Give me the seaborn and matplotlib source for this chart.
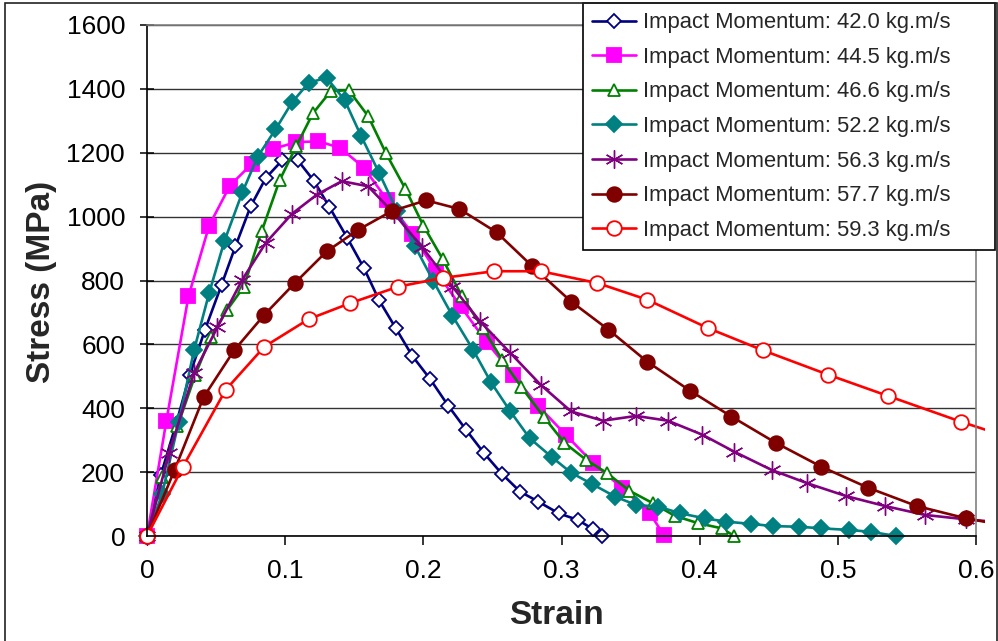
import matplotlib
matplotlib.use("Agg")
import matplotlib.pyplot as plt
import seaborn as sns
from matplotlib.patches import Rectangle
from matplotlib.transforms import Bbox, TransformedBbox

# values (strain, stress in MPa)
strain_42_0 = [0, 0.010, 0.021, 0.031, 0.042, 0.054, 0.064, 0.075, 0.086, 0.098, 0.109,
               0.121, 0.132, 0.145, 0.157, 0.168, 0.180, 0.192, 0.205, 0.218, 0.231,
               0.244, 0.257, 0.270, 0.283, 0.298, 0.312, 0.323, 0.329]
stress_42_0 = [0, 191, 350, 505, 646, 787, 907, 1032, 1121, 1177, 1177,
               1111, 1030, 933, 839, 738, 651, 564, 491, 408, 332,
               259, 194, 139, 108, 71, 50, 21, 0]

strain_44_5 = [0, 0.014, 0.030, 0.045, 0.060, 0.076, 0.091, 0.108, 0.124, 0.140, 0.157,
               0.174, 0.192, 0.209, 0.227, 0.246, 0.265, 0.283, 0.303, 0.323, 0.344,
               0.364, 0.374]
stress_44_5 = [0, 360, 750, 972, 1097, 1166, 1212, 1233, 1236, 1215, 1153,
               1051, 947, 830, 719, 606, 505, 408, 317, 228, 150,
               71, 3]

strain_46_6 = [0, 0.011, 0.022, 0.035, 0.046, 0.058, 0.070, 0.083, 0.096, 0.108, 0.120,
               0.133, 0.146, 0.160, 0.173, 0.187, 0.200, 0.214, 0.228, 0.243, 0.257,
               0.271, 0.287, 0.302, 0.318, 0.333, 0.349, 0.366, 0.382, 0.399, 0.416,
               0.425]
stress_46_6 = [0, 186, 343, 505, 622, 708, 780, 954, 1114, 1220, 1323,
               1393, 1396, 1315, 1198, 1087, 972, 867, 750, 651, 552,
               466, 374, 292, 238, 197, 142, 103, 63, 40, 24,
               0]

strain_52_2 = [0, 0.011, 0.023, 0.034, 0.045, 0.056, 0.069, 0.080, 0.093, 0.105, 0.117,
               0.130, 0.143, 0.155, 0.168, 0.181, 0.194, 0.207, 0.221, 0.236, 0.249,
               0.263, 0.277, 0.293, 0.307, 0.322, 0.339, 0.354, 0.370, 0.386, 0.404,
               0.419, 0.437, 0.453, 0.472, 0.488, 0.508, 0.524, 0.542]
stress_52_2 = [0, 132, 358, 581, 761, 923, 1076, 1187, 1273, 1358, 1419,
               1435, 1365, 1252, 1137, 1017, 907, 800, 690, 583, 481,
               390, 306, 247, 198, 163, 123, 97, 92, 71, 55,
               45, 38, 31, 29, 24, 19, 13, 0]

strain_56_3 = [0, 0.016, 0.034, 0.051, 0.069, 0.086, 0.105, 0.123, 0.141, 0.160, 0.179,
               0.199, 0.221, 0.241, 0.263, 0.285, 0.307, 0.330, 0.354, 0.377, 0.402,
               0.425, 0.452, 0.478, 0.506, 0.534, 0.563, 0.593, 0.620]
stress_56_3 = [0, 259, 510, 654, 803, 918, 1009, 1069, 1111, 1095, 1009,
               905, 781, 672, 573, 473, 390, 361, 376, 361, 317,
               264, 207, 165, 125, 94, 66, 52, 42]

strain_57_7 = [0, 0.020, 0.041, 0.063, 0.085, 0.107, 0.130, 0.153, 0.177, 0.202, 0.226,
               0.253, 0.279, 0.307, 0.334, 0.362, 0.393, 0.423, 0.455, 0.488, 0.522,
               0.557, 0.593, 0.625]
stress_57_7 = [0, 207, 435, 581, 693, 792, 891, 959, 1017, 1051, 1024,
               951, 844, 734, 646, 546, 455, 374, 292, 217, 151,
               94, 55, 30]

strain_59_3 = [0, 0.026, 0.057, 0.085, 0.117, 0.147, 0.182, 0.214, 0.251, 0.285, 0.326,
               0.362, 0.406, 0.446, 0.493, 0.536, 0.589, 0.630]
stress_59_3 = [0, 217, 458, 593, 679, 729, 781, 808, 829, 829, 792,
               740, 651, 581, 505, 439, 358, 300]

labels = ["Impact Momentum: 42.0 kg.m/s", "Impact Momentum: 44.5 kg.m/s",
          "Impact Momentum: 46.6 kg.m/s", "Impact Momentum: 52.2 kg.m/s",
          "Impact Momentum: 56.3 kg.m/s", "Impact Momentum: 57.7 kg.m/s",
          "Impact Momentum: 59.3 kg.m/s"]
strains = [strain_42_0, strain_44_5, strain_46_6, strain_52_2, strain_56_3, strain_57_7, strain_59_3]
stresses = [stress_42_0, stress_44_5, stress_46_6, stress_52_2, stress_56_3, stress_57_7, stress_59_3]

# styling per series: colour, marker, face colour, marker size, marker edge width
colors = ["#000080", "#FF00FF", "#008000", "#008080", "#800080", "#800000", "#FF0000"]
markers = ["D", "s", "^", "D", (6, 2, 0), "o", "o"]
faces = ["white", "#FF00FF", "white", "#008080", "#800080", "#800000", "white"]
sizes = [7.5, 9.5, 9.0, 8.5, 13.0, 10.5, 10.5]
edge_widths = [1.3, 1.3, 1.3, 1.3, 1.0, 1.3, 1.3]

sns.set_theme(style="ticks")
plt.rcParams["font.family"] = ["Liberation Sans", "DejaVu Sans"]

fig = plt.figure(figsize=(9.98, 6.41), dpi=100)
ax = fig.add_axes([147 / 998, 1 - 536 / 641, 829 / 998, 511 / 641])

for lab, xs, ys, c, m, fc, ms, mew in zip(labels, strains, stresses, colors, markers,
                                           faces, sizes, edge_widths):
    sns.lineplot(x=xs, y=ys, ax=ax, color=c, marker=m, markersize=ms,
                 markerfacecolor=fc, markeredgecolor=c, markeredgewidth=mew,
                 linewidth=1.9, label=lab, estimator=None, sort=False)

# Excel lets the lines run a few pixels past the plot area and never clips markers
clip = TransformedBbox(Bbox([[-0.05, -0.05], [1.011, 1.05]]), ax.transAxes)
for line in ax.lines:
    line.set_clip_path(None)
    line.set_clip_box(clip)

ax.set_xlim(0, 0.6)
ax.set_ylim(0, 1600)
ax.set_xticks([0, 0.1, 0.2, 0.3, 0.4, 0.5, 0.6])
ax.set_xticklabels(["0", "0.1", "0.2", "0.3", "0.4", "0.5", "0.6"])
ax.set_yticks(range(0, 1601, 200))
ax.tick_params(axis="x", direction="out", length=6.5, width=1.1, pad=10,
               labelsize=19, color="black", labelcolor="black")
ax.tick_params(axis="y", direction="inout", length=9.5, width=1.1, pad=11,
               labelsize=19, color="black", labelcolor="black")

ax.yaxis.grid(True, color="#333333", linewidth=1.0)
ax.xaxis.grid(False)
ax.set_axisbelow(True)
for side in ["left", "bottom"]:
    ax.spines[side].set_color("black")
    ax.spines[side].set_linewidth(1.2)
for side in ["top", "right"]:
    ax.spines[side].set_visible(True)
    ax.spines[side].set_color("#808080")
    ax.spines[side].set_linewidth(1.2)

ax.set_xlabel("Strain", fontsize=24, fontweight="bold", va="center")
ax.set_ylabel("Stress (MPa)", fontsize=24, fontweight="bold", va="center")
ax.xaxis.set_label_coords((556 - 147) / 829, (536 - 615) / 511)
ax.yaxis.set_label_coords((42 - 147) / 829, (536 - 282) / 511)

handles, labs = ax.get_legend_handles_labels()
leg = ax.legend(handles, labs, loc="upper left",
                bbox_to_anchor=(583 / 998, 1 - 240 / 641, 412 / 998, 237 / 641),
                bbox_transform=fig.transFigure, mode="expand", borderaxespad=0,
                fontsize=15.8, frameon=True, fancybox=False, shadow=False,
                framealpha=1, edgecolor="black", facecolor="white",
                labelspacing=0.62, handlelength=2.0, handletextpad=0.3,
                borderpad=0.42)
leg.get_frame().set_linewidth(1.2)

# chart-area border
fig.patches.append(Rectangle((5 / 998, -0.02), 992 / 998, 1.02 - 3 / 641,
                             transform=fig.transFigure, fill=False,
                             edgecolor="#222222", linewidth=1.2, zorder=0))

fig.savefig("out.png", dpi=100)
